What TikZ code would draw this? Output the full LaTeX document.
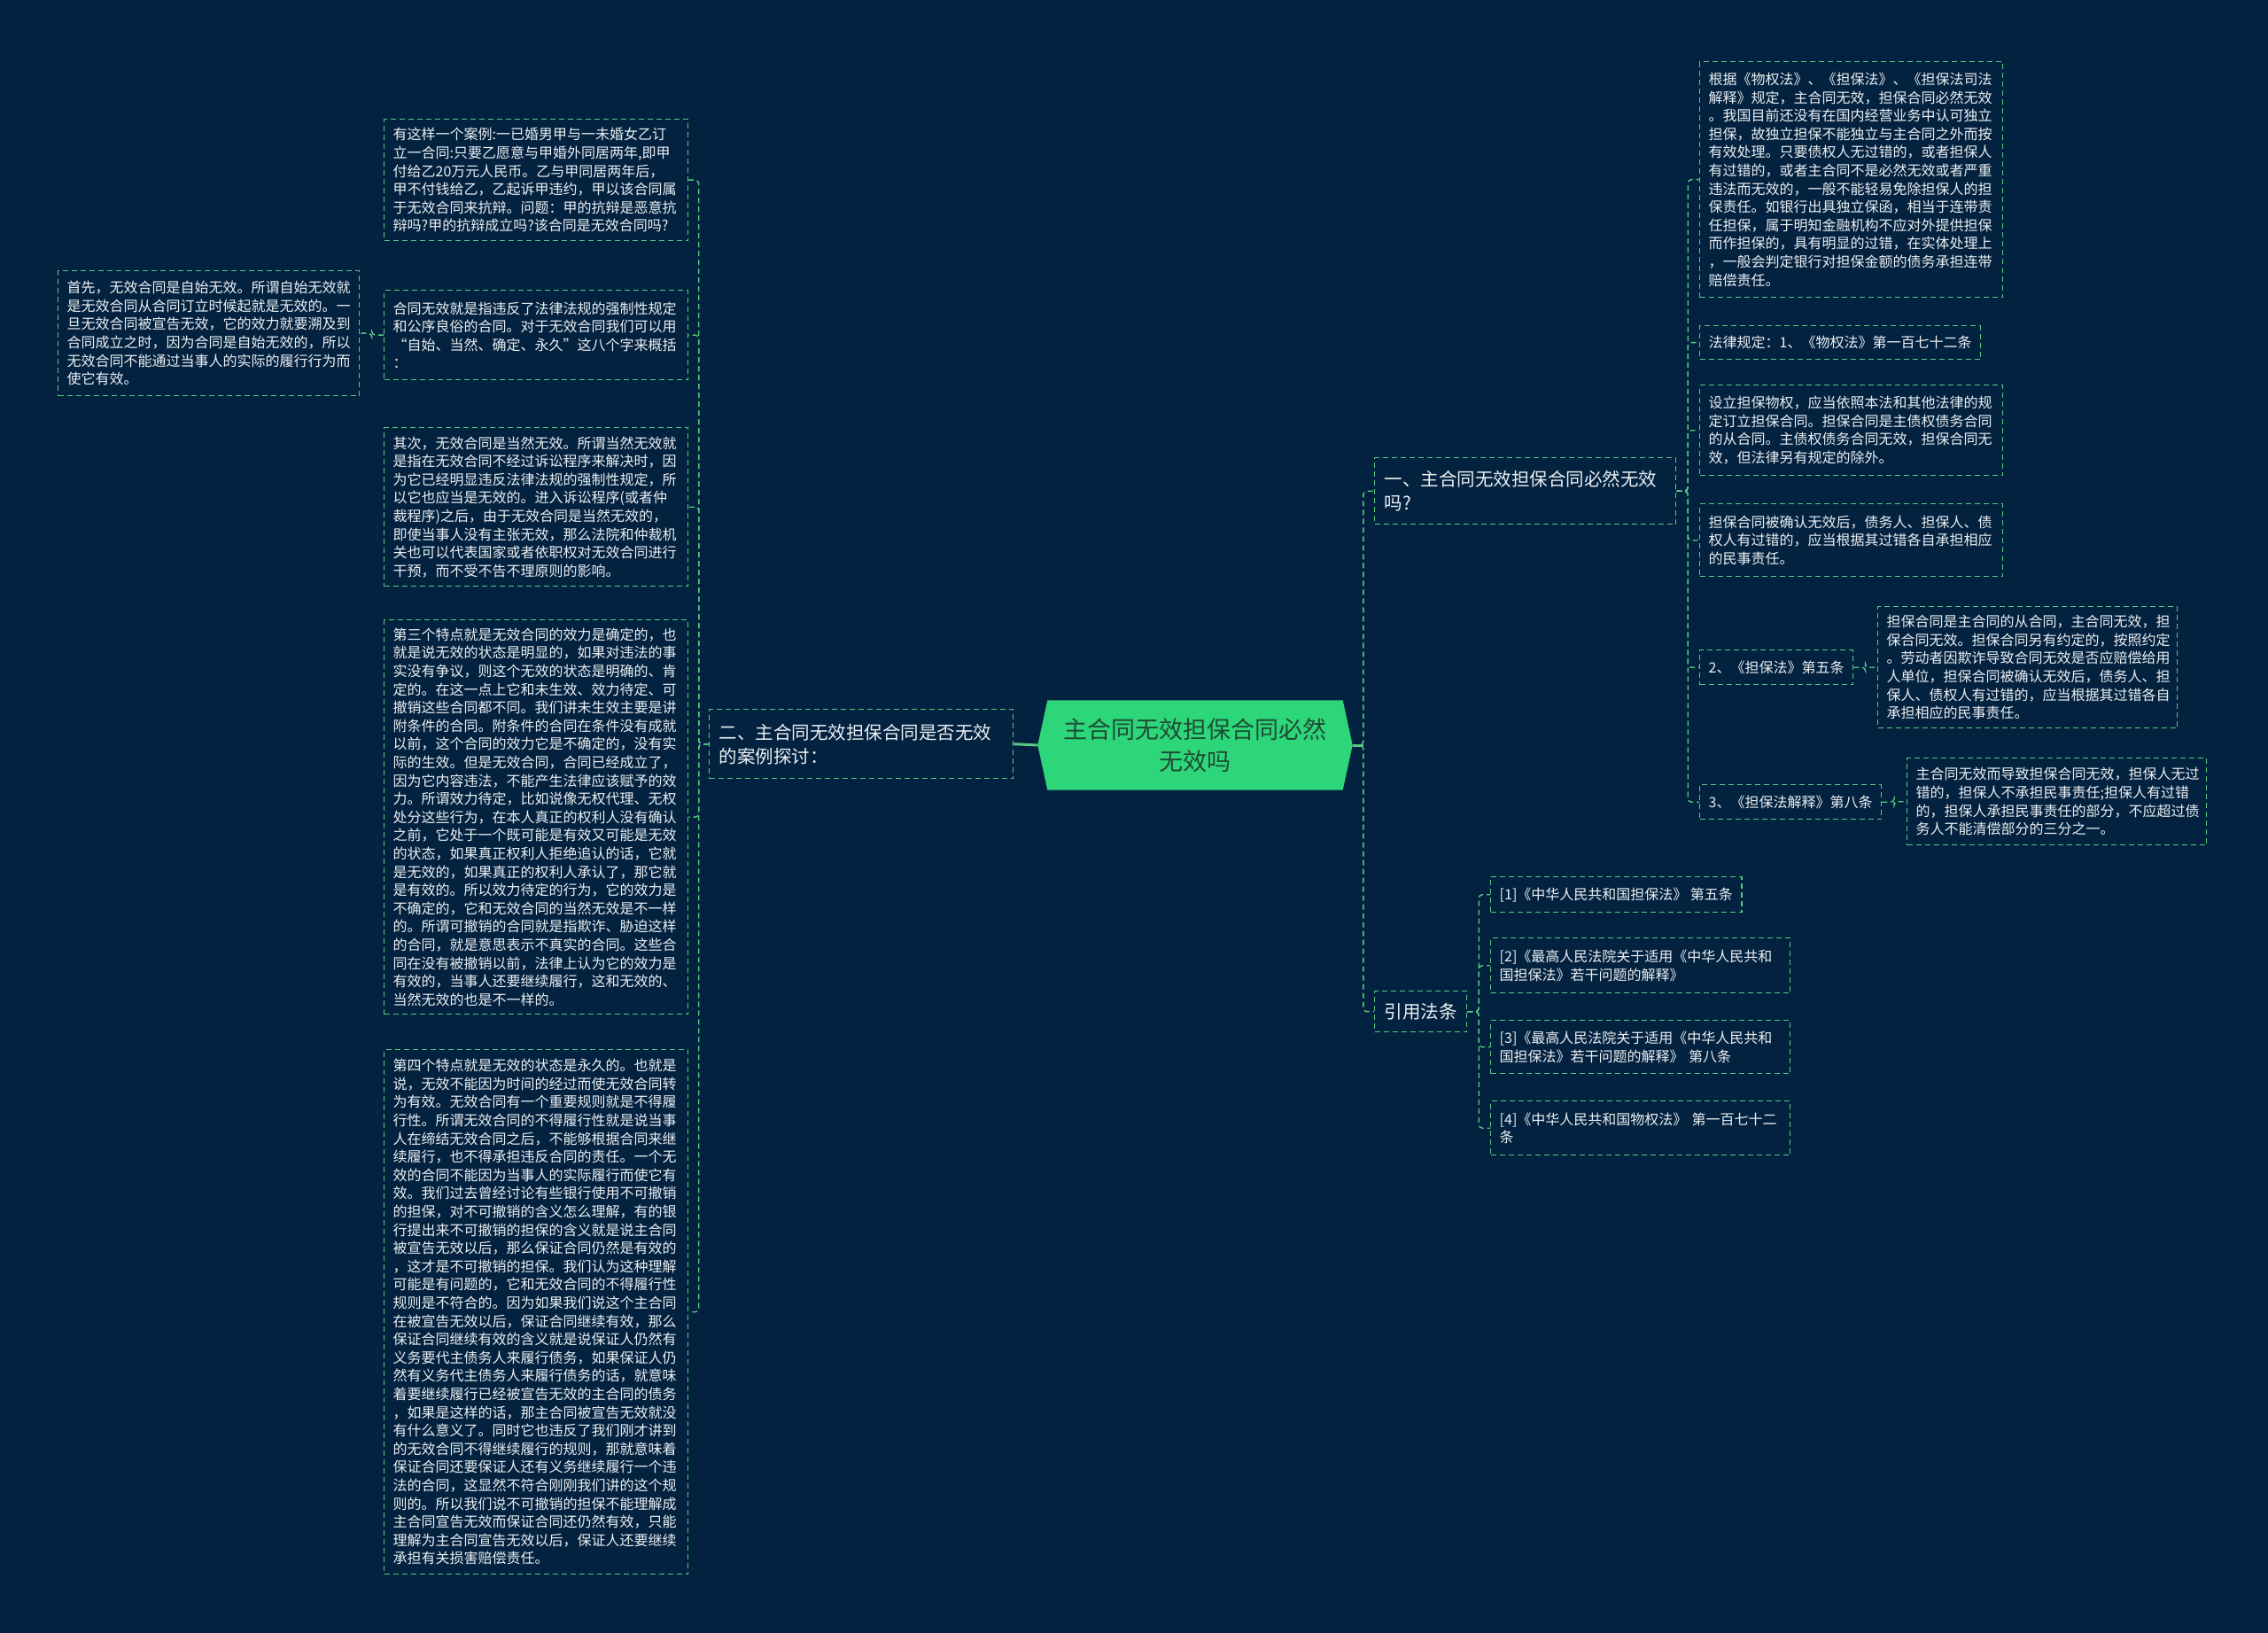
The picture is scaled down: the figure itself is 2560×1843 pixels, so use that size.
\documentclass[tikz,border=0pt]{standalone}
\usepackage{fontspec}
\setmainfont{Noto Sans CJK SC}
\usetikzlibrary{calc,backgrounds}
\definecolor{bgc}{RGB}{3,34,63}
\definecolor{lineg}{RGB}{88,200,130}
\definecolor{txtc}{RGB}{236,240,244}
\definecolor{rootg}{RGB}{46,214,122}
\definecolor{roottxt}{RGB}{30,75,52}
\tikzset{
  leaf/.style={draw=lineg, line width=1.4pt, dash pattern=on 6pt off 4pt, text=txtc,
    align=left, anchor=north west, inner xsep=10pt, inner ysep=9pt,
    font=\fontsize{16}{20.6}\selectfont},
  branch/.style={leaf, inner xsep=11pt, font=\fontsize{20.5}{27}\selectfont},
  conn/.style={draw=lineg, line width=1.4pt, dash pattern=on 6pt off 4pt, rounded corners=4pt},
  rootconn/.style={draw=lineg, line width=3pt},
}
\newcommand\connR[2]{\draw[conn] (#1.east) -- ($(#1.east)!.5!(#2.west |- #1.east)$) |- (#2.west);}
\newcommand\connL[2]{\draw[conn] (#1.west) -- ($(#1.west)!.5!(#2.east |- #1.west)$) |- (#2.east);}
\begin{document}
\begin{tikzpicture}[x=1pt,y=-1pt]
\useasboundingbox (0,0) rectangle (2560,1843);
\begin{scope}[on background layer]
  \fill[bgc] (0,0) rectangle (2560,1843);
\end{scope}

% root
\node[minimum width=355pt, minimum height=101pt, inner sep=0pt, align=center, text=roottxt,
  font=\fontsize{27}{36}\selectfont] (root) at (1349,841) {主合同无效担保合同必然\\无效吗};
\begin{scope}[on background layer]
  \fill[rootg] ([xshift=11pt]root.north west) -- ([xshift=-11pt]root.north east) -- (root.east)
    -- ([xshift=-11pt]root.south east) -- ([xshift=11pt]root.south west) -- (root.west) -- cycle;
\end{scope}

% main branches
\node[branch, text width=321pt, minimum height=78pt] (b2) at (800,800) {二、主合同无效担保合同是否无效\\的案例探讨：};
\node[branch, text width=318pt, minimum height=75pt] (b1) at (1551,516) {一、主合同无效担保合同必然无效\\吗?};
\node[branch, minimum height=46pt] (b3) at (1551,1118) {引用法条};

% left children
\node[leaf, text width=323pt, minimum height=137pt] (c1) at (433,134) {有这样一个案例:一已婚男甲与一未婚女乙订\\立一合同:只要乙愿意与甲婚外同居两年,即甲\\付给乙20万元人民币。乙与甲同居两年后，\\甲不付钱给乙，乙起诉甲违约，甲以该合同属\\于无效合同来抗辩。问题：甲的抗辩是恶意抗\\辩吗?甲的抗辩成立吗?该合同是无效合同吗?};
\node[leaf, text width=323pt, minimum height=101pt] (c2) at (433,327) {合同无效就是指违反了法律法规的强制性规定\\和公序良俗的合同。对于无效合同我们可以用\\“自始、当然、确定、永久”这八个字来概括\\：};
\node[leaf, text width=320pt, minimum height=141pt] (g1) at (65,305) {首先，无效合同是自始无效。所谓自始无效就\\是无效合同从合同订立时候起就是无效的。一\\旦无效合同被宣告无效，它的效力就要溯及到\\合同成立之时，因为合同是自始无效的，所以\\无效合同不能通过当事人的实际的履行行为而\\使它有效。};
\node[leaf, text width=323pt, minimum height=179pt] (c3) at (433,482) {其次，无效合同是当然无效。所谓当然无效就\\是指在无效合同不经过诉讼程序来解决时，因\\为它已经明显违反法律法规的强制性规定，所\\以它也应当是无效的。进入诉讼程序(或者仲\\裁程序)之后，由于无效合同是当然无效的，\\即使当事人没有主张无效，那么法院和仲裁机\\关也可以代表国家或者依职权对无效合同进行\\干预，而不受不告不理原则的影响。};
\node[leaf, text width=323pt, minimum height=444pt] (c4) at (433,699) {第三个特点就是无效合同的效力是确定的，也\\就是说无效的状态是明显的，如果对违法的事\\实没有争议，则这个无效的状态是明确的、肯\\定的。在这一点上它和未生效、效力待定、可\\撤销这些合同都不同。我们讲未生效主要是讲\\附条件的合同。附条件的合同在条件没有成就\\以前，这个合同的效力它是不确定的，没有实\\际的生效。但是无效合同，合同已经成立了，\\因为它内容违法，不能产生法律应该赋予的效\\力。所谓效力待定，比如说像无权代理、无权\\处分这些行为，在本人真正的权利人没有确认\\之前，它处于一个既可能是有效又可能是无效\\的状态，如果真正权利人拒绝追认的话，它就\\是无效的，如果真正的权利人承认了，那它就\\是有效的。所以效力待定的行为，它的效力是\\不确定的，它和无效合同的当然无效是不一样\\的。所谓可撤销的合同就是指欺诈、胁迫这样\\的合同，就是意思表示不真实的合同。这些合\\同在没有被撤销以前，法律上认为它的效力是\\有效的，当事人还要继续履行，这和无效的、\\当然无效的也是不一样的。};
\node[leaf, text width=323pt, minimum height=592pt] (c5) at (433,1184) {第四个特点就是无效的状态是永久的。也就是\\说，无效不能因为时间的经过而使无效合同转\\为有效。无效合同有一个重要规则就是不得履\\行性。所谓无效合同的不得履行性就是说当事\\人在缔结无效合同之后，不能够根据合同来继\\续履行，也不得承担违反合同的责任。一个无\\效的合同不能因为当事人的实际履行而使它有\\效。我们过去曾经讨论有些银行使用不可撤销\\的担保，对不可撤销的含义怎么理解，有的银\\行提出来不可撤销的担保的含义就是说主合同\\被宣告无效以后，那么保证合同仍然是有效的\\，这才是不可撤销的担保。我们认为这种理解\\可能是有问题的，它和无效合同的不得履行性\\规则是不符合的。因为如果我们说这个主合同\\在被宣告无效以后，保证合同继续有效，那么\\保证合同继续有效的含义就是说保证人仍然有\\义务要代主债务人来履行债务，如果保证人仍\\然有义务代主债务人来履行债务的话，就意味\\着要继续履行已经被宣告无效的主合同的债务\\，如果是这样的话，那主合同被宣告无效就没\\有什么意义了。同时它也违反了我们刚才讲到\\的无效合同不得继续履行的规则，那就意味着\\保证合同还要保证人还有义务继续履行一个违\\法的合同，这显然不符合刚刚我们讲的这个规\\则的。所以我们说不可撤销的担保不能理解成\\主合同宣告无效而保证合同还仍然有效，只能\\理解为主合同宣告无效以后，保证人还要继续\\承担有关损害赔偿责任。};

% right children
\node[leaf, text width=322pt, minimum height=266pt] (r1) at (1918,69) {根据《物权法》、《担保法》、《担保法司法\\解释》规定，主合同无效，担保合同必然无效\\。我国目前还没有在国内经营业务中认可独立\\担保，故独立担保不能独立与主合同之外而按\\有效处理。只要债权人无过错的，或者担保人\\有过错的，或者主合同不是必然无效或者严重\\违法而无效的，一般不能轻易免除担保人的担\\保责任。如银行出具独立保函，相当于连带责\\任担保，属于明知金融机构不应对外提供担保\\而作担保的，具有明显的过错，在实体处理上\\，一般会判定银行对担保金额的债务承担连带\\赔偿责任。};
\node[leaf, minimum height=38pt] (r2) at (1918,367) {法律规定：1、《物权法》第一百七十二条};
\node[leaf, text width=322pt, minimum height=102pt] (r3) at (1918,434) {设立担保物权，应当依照本法和其他法律的规\\定订立担保合同。担保合同是主债权债务合同\\的从合同。主债权债务合同无效，担保合同无\\效，但法律另有规定的除外。};
\node[leaf, text width=322pt, minimum height=82pt] (r4) at (1918,568) {担保合同被确认无效后，债务人、担保人、债\\权人有过错的，应当根据其过错各自承担相应\\的民事责任。};
\node[leaf, minimum height=39pt] (r5) at (1918,733) {2、《担保法》第五条};
\node[leaf, text width=318pt, minimum height=137pt] (r5c) at (2119,684) {担保合同是主合同的从合同，主合同无效，担\\保合同无效。担保合同另有约定的，按照约定\\。劳动者因欺诈导致合同无效是否应赔偿给用\\人单位，担保合同被确认无效后，债务人、担\\保人、债权人有过错的，应当根据其过错各自\\承担相应的民事责任。};
\node[leaf, minimum height=39pt] (r6) at (1918,885) {3、《担保法解释》第八条};
\node[leaf, text width=318pt, minimum height=98pt] (r6c) at (2152,855) {主合同无效而导致担保合同无效，担保人无过\\错的，担保人不承担民事责任;担保人有过错\\的，担保人承担民事责任的部分，不应超过债\\务人不能清偿部分的三分之一。};

% references
\node[leaf, minimum height=40pt] (f1) at (1682,989) {[1]《中华人民共和国担保法》 第五条};
\node[leaf, text width=318pt, minimum height=62pt] (f2) at (1682,1058) {[2]《最高人民法院关于适用《中华人民共和\\国担保法》若干问题的解释》};
\node[leaf, text width=318pt, minimum height=60pt] (f3) at (1682,1151) {[3]《最高人民法院关于适用《中华人民共和\\国担保法》若干问题的解释》 第八条};
\node[leaf, text width=318pt, minimum height=61pt] (f4) at (1682,1242) {[4]《中华人民共和国物权法》 第一百七十二\\条};

% connectors
\connR{root}{b1}
\connR{root}{b3}
\draw[rootconn] (root.east) -- ($(root.east)!.5!(b1.west |- root.east)$);
\draw[rootconn] (root.west) -- (b2.east);
\connL{b2}{c1}
\connL{b2}{c2}
\connL{b2}{c3}
\connL{b2}{c4}
\connL{b2}{c5}
\connL{c2}{g1}
\connR{b1}{r1}
\connR{b1}{r2}
\connR{b1}{r3}
\connR{b1}{r4}
\connR{b1}{r5}
\connR{b1}{r6}
\connR{r5}{r5c}
\connR{r6}{r6c}
\connR{b3}{f1}
\connR{b3}{f2}
\connR{b3}{f3}
\connR{b3}{f4}
\end{tikzpicture}
\end{document}
